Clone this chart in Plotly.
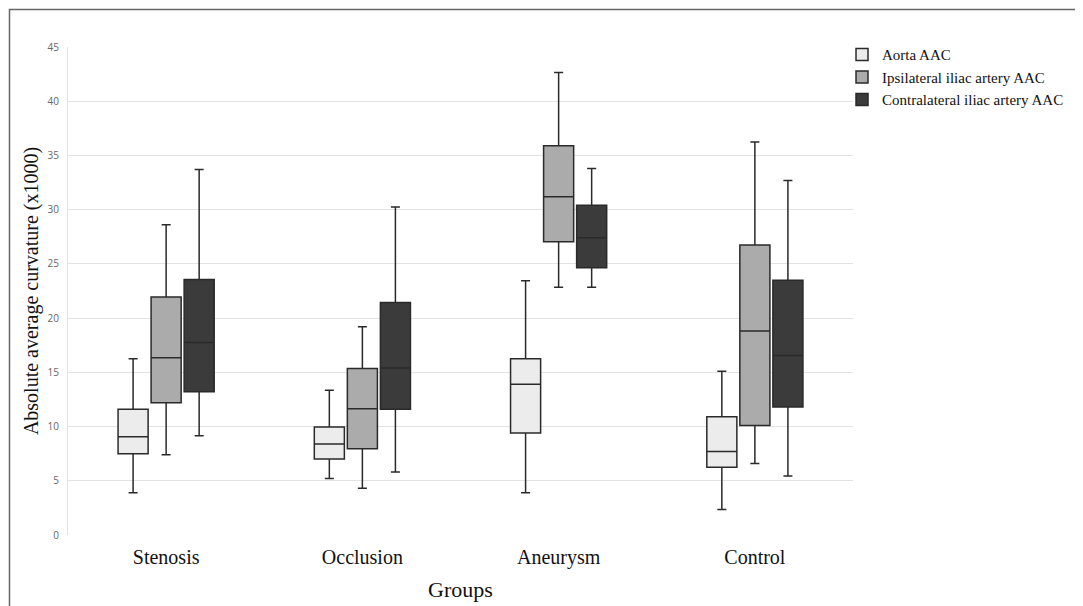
import plotly.graph_objects as go

groups = ["Stenosis", "Occlusion", "Aneurysm", "Control"]
series_names = ["Aorta AAC", "Ipsilateral iliac artery AAC", "Contralateral iliac artery AAC"]

# box statistics per series, in group order
aorta_low = [3.9, 5.2, 3.9, 2.35]
aorta_q1 = [7.5, 7.0, 9.4, 6.25]
aorta_med = [9.05, 8.4, 13.9, 7.7]
aorta_q3 = [11.6, 9.95, 16.25, 10.9]
aorta_high = [16.25, 13.35, 23.45, 15.1]

ipsi_low = [7.4, 4.3, 22.85, 6.6]
ipsi_q1 = [12.2, 7.95, 27.05, 10.1]
ipsi_med = [16.35, 11.65, 31.2, 18.8]
ipsi_q3 = [21.95, 15.35, 35.9, 26.75]
ipsi_high = [28.6, 19.2, 42.65, 36.25]

contra_low = [9.15, 5.8, 22.85, 5.45]
contra_q1 = [13.2, 11.6, 24.65, 11.8]
contra_med = [17.75, 15.4, 27.4, 16.55]
contra_q3 = [23.55, 21.45, 30.4, 23.5]
contra_high = [33.7, 30.25, 33.8, 32.7]

y_ticks = [0, 5, 10, 15, 20, 25, 30, 35, 40, 45]

stats = [
    (aorta_low, aorta_q1, aorta_med, aorta_q3, aorta_high, "#ececec"),
    (ipsi_low, ipsi_q1, ipsi_med, ipsi_q3, ipsi_high, "#ababab"),
    (contra_low, contra_q1, contra_med, contra_q3, contra_high, "#3b3b3b"),
]

fig = go.Figure()
for name, (lo, q1, med, q3, hi, col) in zip(series_names, stats):
    fig.add_trace(go.Box(
        name=name, x=groups,
        lowerfence=lo, q1=q1, median=med, q3=q3, upperfence=hi,
        fillcolor=col,
        line=dict(color="#2a2a2a", width=1.5),
        whiskerwidth=0.3,
        boxpoints=False,
        hoverinfo="skip",
    ))

# page has an 8px body margin; figure is sized/offset to compensate
W, H = 1075, 598
L, R, T, B = 60, 230, 39, 71
PW, PH = W - L - R, H - T - B

fig.update_layout(
    width=W, height=H,
    margin=dict(l=L, r=R, t=T, b=B, autoexpand=False),
    paper_bgcolor="white", plot_bgcolor="white",
    boxmode="group", boxgap=0.495, boxgroupgap=0.09,
    showlegend=True,
    legend=dict(x=0.986, y=1.018, xanchor="left", yanchor="top",
                font=dict(family="Liberation Serif", size=15, color="#111"),
                tracegroupgap=2, itemwidth=30, bgcolor="rgba(0,0,0,0)"),
    xaxis=dict(
        categoryorder="array", categoryarray=groups,
        range=[-0.5, 3.5], automargin=False,
        showgrid=False, showline=False, zeroline=False, ticks="",
        tickfont=dict(family="Liberation Serif", size=20, color="#111"),
        ticklabelstandoff=8,
        title=dict(text="Groups", font=dict(family="Liberation Serif", size=22, color="#111"), standoff=13),
    ),
    yaxis=dict(
        range=[0, 45], tickvals=y_ticks, automargin=False,
        showgrid=True, gridcolor="#e3e3e3", gridwidth=1,
        showline=True, linecolor="#e3e3e3", linewidth=1,
        zeroline=False, ticks="",
        tickfont=dict(family="Open Sans", size=10, color="#666"),
        ticklabelstandoff=6,
        title=dict(text="Absolute average curvature (x1000)",
                   font=dict(family="Liberation Serif", size=20, color="#111"), standoff=3),
    ),
    shapes=[dict(type="rect", xref="paper", yref="paper",
                 x0=(1.5 - L) / PW, x1=(W + 30 - L) / PW,
                 y0=-(B + 30) / PH, y1=(PH + T - 1.5) / PH,
                 line=dict(color="#666", width=1.5), fillcolor="rgba(0,0,0,0)", layer="below")],
)

fig.write_html("out.html")
